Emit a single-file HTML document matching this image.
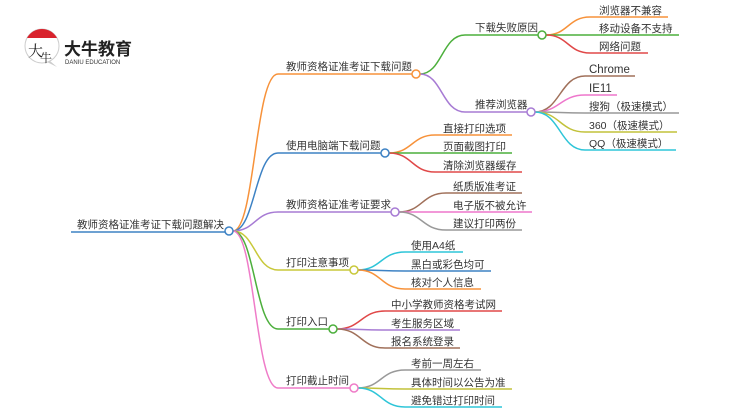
<!DOCTYPE html>
<html><head><meta charset="utf-8"><style>
html,body{margin:0;padding:0;background:#fff;}
svg{display:block;}
text{font-family:"Liberation Sans","Noto Sans CJK SC",sans-serif;font-size:10.5px;fill:#333;}
</style></head><body>
<svg width="750" height="410" viewBox="0 0 750 410" xmlns="http://www.w3.org/2000/svg">
<g fill="none" stroke-width="1.5">
<path d="M71 232 H225" stroke="#3d82c4"/>
<path d="M233 231 C255 231,255 74,278 74 H412" stroke="#f7923a"/>
<path d="M233 231 C255 231,255 153,278 153 H381" stroke="#3d82c4"/>
<path d="M233 231 C255 231,255 212,278 212 H391" stroke="#a77bd4"/>
<path d="M233 231 C255 231,255 270,278 270 H350" stroke="#c8c83a"/>
<path d="M233 231 C255 231,255 329,278 329 H329" stroke="#4caf3c"/>
<path d="M233 231 C255 231,255 388,278 388 H350" stroke="#ef7cc8"/>
<path d="M420 74 C442 74,442 35,465 35 H538" stroke="#4caf3c"/>
<path d="M420 74 C442 74,442 112,465 112 H527" stroke="#a77bd4"/>
<path d="M546 35 C568 35,568 17,590 17 H668" stroke="#f7923a"/>
<path d="M546 35 H679" stroke="#4caf3c"/>
<path d="M546 35 C568 35,568 53,590 53 H648" stroke="#e04848"/>
<path d="M535 112 C560 112,560 76,585 76 H635" stroke="#a0705a"/>
<path d="M535 112 C560 112,560 95,585 95 H617" stroke="#ee77cc"/>
<path d="M535 112 C560 112,560 113,585 113 H679" stroke="#999"/>
<path d="M535 112 C560 112,560 132,585 132 H677" stroke="#c2c23a"/>
<path d="M535 112 C560 112,560 150,585 150 H676" stroke="#2ec5d8"/>
<path d="M389 153 C412 153,412 135,435 135 H512" stroke="#f7923a"/>
<path d="M389 153 H512" stroke="#4caf3c"/>
<path d="M389 153 C412 153,412 172,435 172 H522" stroke="#e04848"/>
<path d="M399 212 C422 212,422 193,446 193 H522" stroke="#a0705a"/>
<path d="M399 212 H532" stroke="#ee77cc"/>
<path d="M399 212 C422 212,422 230,446 230 H522" stroke="#999"/>
<path d="M358 270 C381 270,381 252,405 252 H463" stroke="#2ec5d8"/>
<path d="M358 270 C381 270,381 271,405 271 H491" stroke="#3d82c4"/>
<path d="M358 270 C381 270,381 289,405 289 H481" stroke="#f7923a"/>
<path d="M337 329 C361 329,361 311,385 311 H502" stroke="#e04848"/>
<path d="M337 329 C361 329,361 330,385 330 H460" stroke="#a77bd4"/>
<path d="M337 329 C361 329,361 348,385 348 H460" stroke="#a0705a"/>
<path d="M358 388 C381 388,381 370,405 370 H481" stroke="#999"/>
<path d="M358 388 C381 388,381 389,405 389 H512" stroke="#c2c23a"/>
<path d="M358 388 C381 388,381 407,405 407 H502" stroke="#2ec5d8"/>
</g>
<g fill="#fff" stroke-width="1.5">
<circle cx="229" cy="231" r="4" stroke="#3d82c4"/>
<circle cx="416" cy="74" r="4" stroke="#f7923a"/>
<circle cx="385" cy="153" r="4" stroke="#3d82c4"/>
<circle cx="395" cy="212" r="4" stroke="#a77bd4"/>
<circle cx="354" cy="270" r="4" stroke="#c8c83a"/>
<circle cx="333" cy="329" r="4" stroke="#4caf3c"/>
<circle cx="354" cy="388" r="4" stroke="#ef7cc8"/>
<circle cx="542" cy="35" r="4" stroke="#4caf3c"/>
<circle cx="531" cy="112" r="4" stroke="#a77bd4"/>
</g>
<text x="77" y="228">教师资格证准考证下载问题解决</text>
<text x="286" y="70">教师资格证准考证下载问题</text>
<text x="286" y="149">使用电脑端下载问题</text>
<text x="286" y="208">教师资格证准考证要求</text>
<text x="286" y="266">打印注意事项</text>
<text x="286" y="325">打印入口</text>
<text x="286" y="384">打印截止时间</text>
<text x="475" y="31">下载失败原因</text>
<text x="475" y="108">推荐浏览器</text>
<text x="599" y="14">浏览器不兼容</text>
<text x="599" y="32">移动设备不支持</text>
<text x="599" y="50">网络问题</text>
<text x="589" y="73" style="font-size:11.5px">Chrome</text>
<text x="589" y="92" style="font-size:11.5px">IE11</text>
<text x="589" y="110">搜狗（极速模式）</text>
<text x="589" y="129">360（极速模式）</text>
<text x="589" y="147">QQ（极速模式）</text>
<text x="443" y="132">直接打印选项</text>
<text x="443" y="150">页面截图打印</text>
<text x="443" y="169">清除浏览器缓存</text>
<text x="453" y="190">纸质版准考证</text>
<text x="453" y="209">电子版不被允许</text>
<text x="453" y="227">建议打印两份</text>
<text x="411" y="249">使用A4纸</text>
<text x="411" y="268">黑白或彩色均可</text>
<text x="411" y="286">核对个人信息</text>
<text x="391" y="308">中小学教师资格考试网</text>
<text x="391" y="327">考生服务区域</text>
<text x="391" y="345">报名系统登录</text>
<text x="411" y="367">考前一周左右</text>
<text x="411" y="386">具体时间以公告为准</text>
<text x="411" y="404">避免错过打印时间</text>
<circle cx="42" cy="46" r="17" fill="#fff" stroke="#ccc" stroke-width="1"/>
<path d="M27 38 A17 17 0 0 1 57 38 Z" fill="#d9232d"/>
<path d="M50 61 L57 67 L47 62 Z" fill="#ccc"/>
<text x="28" y="56" style="font-size:15px;fill:#222;font-family:'Noto Serif CJK SC',serif">大</text>
<text x="40" y="62" style="font-size:12px;fill:#222;font-family:'Noto Serif CJK SC',serif">牛</text>
<text x="64" y="55" style="font-size:17px;font-weight:bold;fill:#222">大牛教育</text>
<text x="65" y="64" style="font-size:6px;fill:#333">DANIU EDUCATION</text>
</svg>
</body></html>
